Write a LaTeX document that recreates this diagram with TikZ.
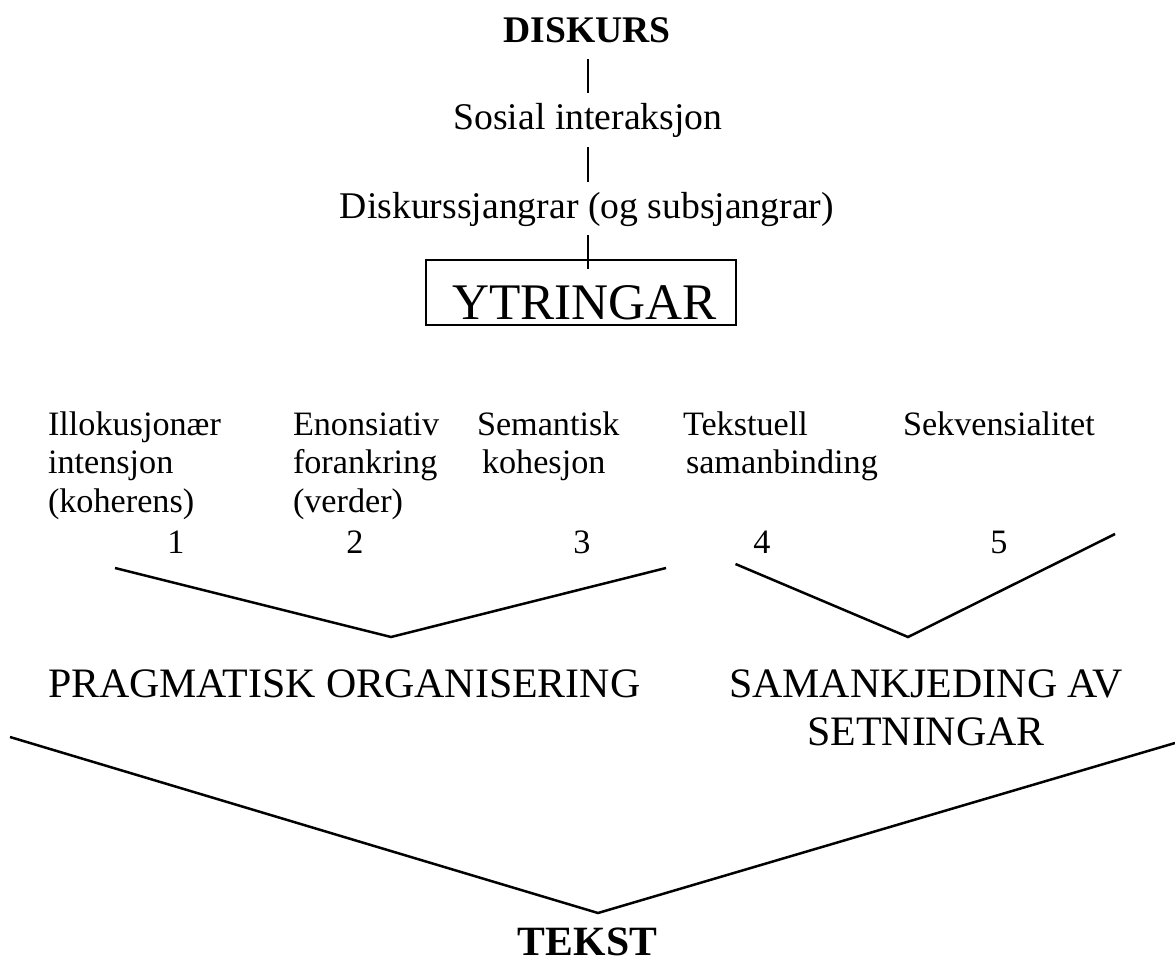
\documentclass[tikz,border=0pt]{standalone}
\usepackage{fontspec}
\setmainfont{Liberation Serif}
\begin{document}
\begin{tikzpicture}[x=1pt,y=-1pt,
  lbl/.style={inner sep=0pt, outer sep=0pt},
  head/.style={lbl, anchor=base, font=\bfseries\fontsize{37.6}{45}\selectfont},
  level/.style={lbl, anchor=base, font=\fontsize{37.7}{45}\selectfont},
  item/.style={lbl, anchor=base west, font=\fontsize{34.2}{38.6}\selectfont},
  num/.style={lbl, anchor=base, font=\fontsize{34.2}{38.6}\selectfont},
  group/.style={lbl, font=\fontsize{41.9}{48}\selectfont},
  tick/.style={line width=1.1pt},
  bracket/.style={line width=2.5pt, line join=miter},
  frame/.style={draw, line width=2pt, inner sep=0pt, anchor=north west}]
\useasboundingbox (0,0) rectangle (1175,963);

% upper hierarchy
\node[head]  (diskurs) at (587,43)  {DISKURS};
\node[level] (sosial)  at (588,130) {Sosial interaksjon};
\node[level] (sjanger) at (587,218) {Diskurssjangrar (og subsjangrar)};

\node[frame, minimum width=310pt, minimum height=65pt] (ybox) at (425,259) {};
\node[lbl, anchor=base west, font=\fontsize{51.3}{60}\selectfont] (ytringar) at (452,319) {YTRINGAR};

\coordinate (t1a) at (588,59);  \coordinate (t1b) at (588,93);
\coordinate (t2a) at (588,147); \coordinate (t2b) at (588,182);
\coordinate (t3a) at (588,235); \coordinate (t3b) at (588,269);
\draw[tick] (t1a) -- (t1b);
\draw[tick] (t2a) -- (t2b);
\draw[tick] (t3a) -- (t3b);

% the five components
\node[item] (c1) at (48,435)
  {\vtop{\baselineskip=38.6pt\hbox{Illokusjonær}\hbox{intensjon}\hbox{(koherens)}}};
\node[item] (c2) at (293,435)
  {\vtop{\baselineskip=38.6pt\hbox{Enonsiativ}\hbox{forankring}\hbox{(verder)}}};
\node[item] (c3) at (477,435)
  {\vtop{\baselineskip=38.6pt\hbox{Semantisk}\hbox{\kern5pt kohesjon}}};
\node[item] (c4) at (683,435)
  {\vtop{\baselineskip=38.6pt\hbox{Tekstuell}\hbox{\kern3pt samanbinding}}};
\node[item] (c5) at (903,435) {Sekvensialitet};

\node[num] (n1) at (176,553) {1};
\node[num] (n2) at (355,553) {2};
\node[num] (n3) at (582,553) {3};
\node[num] (n4) at (762,553) {4};
\node[num] (n5) at (999,553) {5};

% first-level brackets
\coordinate (pa) at (115,568);   \coordinate (pv) at (391,637);   \coordinate (pb) at (666,568);
\coordinate (sa) at (735.5,564); \coordinate (sv) at (908,637);   \coordinate (sb) at (1115,534);
\draw[bracket] (pa) -- (pv) -- (pb);
\draw[bracket] (sa) -- (sv) -- (sb);

\node[group, anchor=base west] (prag) at (48,697) {PRAGMATISK ORGANISERING};
\node[group, anchor=base] (saman) at (926,697)
  {\vtop{\baselineskip=48pt\halign{\hfil#\hfil\cr SAMANKJEDING AV\cr SETNINGAR\cr}}};

% second-level bracket
\coordinate (ta) at (10,737); \coordinate (tv) at (598,913); \coordinate (tb) at (1175,743);
\draw[bracket] (ta) -- (tv) -- (tb);

\node[lbl, anchor=base, text depth=0pt, font=\bfseries\fontsize{41.7}{48}\selectfont] (tekst) at (587.5,955) {TEKST};
\end{tikzpicture}
\end{document}
